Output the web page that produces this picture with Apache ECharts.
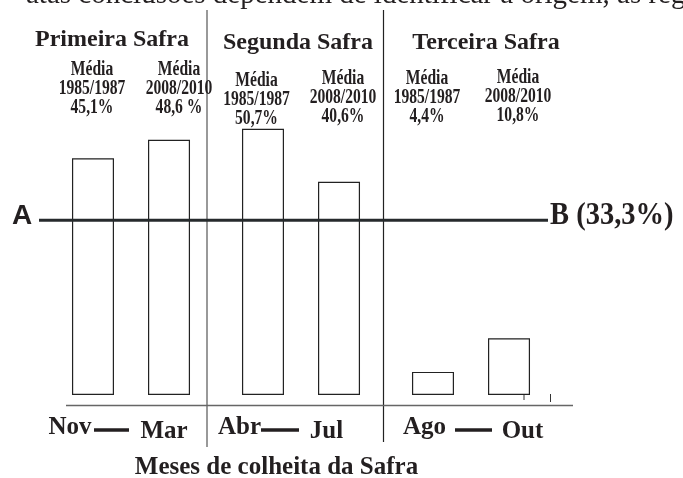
<!DOCTYPE html>
<html>
<head>
<meta charset="utf-8">
<script src="https://cdn.jsdelivr.net/npm/echarts@6/dist/echarts.min.js"></script>
<style>
html,body{margin:0;padding:0;background:#fff;}
#c{width:683px;height:478px;}
</style>
</head>
<body>
<div id="c"></div>
<script>
// ---- data ----
var safras = ['Primeira Safra', 'Segunda Safra', 'Terceira Safra'];
var periodoA = '1985/1987';
var periodoB = '2008/2010';
var media1985 = [45.1, 50.7, 4.4];
var media2008 = [48.6, 40.6, 10.8];
var labels1985 = ['45,1%', '50,7%', '4,4%'];
var labels2008 = ['48,6 %', '40,6%', '10,8%'];
var refValue = 33.3;
var refLabel = '33,3%';
var mesesInicio = ['Nov', 'Abr', 'Ago'];
var mesesFim = ['Mar', 'Jul', 'Out'];
var xTitle = 'Meses de colheita da Safra';
var topText = 'atas conclusões dependem de identificar a origem, as regiões produtoras';

// ---- layout (pixels) ----
var INK = '#231f20';
var SERIF = '"Liberation Serif", "Times New Roman", serif';
var headerX = [112, 298, 486], headerY = [40, 43, 43];
var blockX = [[92, 179], [256.5, 343], [427, 518]];
var blockY = [[89, 89], [100, 97.5], [98, 96.5]];
var startX = [70, 239.5, 424.5], endX = [164, 326.5, 522.5];
var dashX = [[94, 129], [261, 299], [455, 492]];

var chart = echarts.init(document.getElementById('c'), null, {renderer: 'canvas'});

var graphics = [];
// clipped running text at top
graphics.push({type: 'text', x: 26, y: 10, style: {text: topText, font: '29px ' + SERIF, fill: INK, textAlign: 'left', textVerticalAlign: 'bottom'}});
// dividers
graphics.push({type: 'line', shape: {x1: 207, y1: 10, x2: 207, y2: 447}, style: {stroke: '#555', lineWidth: 1.2}});
graphics.push({type: 'line', shape: {x1: 383.5, y1: 10, x2: 383.5, y2: 442}, style: {stroke: '#222', lineWidth: 1.2}});
// baseline axis
graphics.push({type: 'line', shape: {x1: 66, y1: 405.5, x2: 573, y2: 405.5}, style: {stroke: '#666', lineWidth: 1.3}});
// stray ticks
graphics.push({type: 'line', shape: {x1: 524, y1: 392, x2: 524, y2: 400}, style: {stroke: '#333', lineWidth: 1}});
graphics.push({type: 'line', shape: {x1: 550.5, y1: 394, x2: 550.5, y2: 402}, style: {stroke: '#333', lineWidth: 1}});

for (var i = 0; i < safras.length; i++) {
  graphics.push({type: 'text', x: headerX[i], y: headerY[i], style: {text: safras[i], font: 'bold 24px ' + SERIF, fill: INK, textAlign: 'center', textVerticalAlign: 'middle'}});
  var blocks = [['Média', periodoA, labels1985[i]], ['Média', periodoB, labels2008[i]]];
  for (var j = 0; j < 2; j++) {
    graphics.push({type: 'text', x: blockX[i][j], y: blockY[i][j], scaleX: 0.78,
      style: {text: blocks[j].join('\n'), font: 'bold 20px ' + SERIF, lineHeight: 19, fill: INK, textAlign: 'center', textVerticalAlign: 'middle'}});
  }
  graphics.push({type: 'text', x: startX[i], y: 428, style: {text: mesesInicio[i], font: 'bold 25px ' + SERIF, fill: INK, textAlign: 'center', textVerticalAlign: 'middle'}});
  graphics.push({type: 'text', x: endX[i], y: 432, style: {text: mesesFim[i], font: 'bold 25px ' + SERIF, fill: INK, textAlign: 'center', textVerticalAlign: 'middle'}});
  graphics.push({type: 'line', shape: {x1: dashX[i][0], y1: 430, x2: dashX[i][1], y2: 430}, style: {stroke: INK, lineWidth: 3.5}});
}
graphics.push({type: 'text', x: 276.5, y: 468, style: {text: xTitle, font: 'bold 25px ' + SERIF, fill: INK, textAlign: 'center', textVerticalAlign: 'middle'}});
// A / B labels of the reference line
graphics.push({type: 'text', x: 22, y: 216, style: {text: 'A', font: 'bold 28px "Liberation Sans", Arial, sans-serif', fill: INK, textAlign: 'center', textVerticalAlign: 'middle'}});
graphics.push({type: 'text', x: 550, y: 216, scaleX: 0.92, style: {text: 'B (' + refLabel + ')', font: 'bold 31px ' + SERIF, fill: INK, textAlign: 'left', textVerticalAlign: 'middle'}});

var barStyle = {color: '#fff', borderColor: '#222', borderWidth: 1.2};

chart.setOption({
  animation: false,
  backgroundColor: '#fff',
  grid: [
    {left: 46, right: 127, top: 80, bottom: 83},
    {left: 39, right: 135, top: 80, bottom: 83}
  ],
  xAxis: [
    {type: 'category', gridIndex: 0, data: safras, show: false},
    {type: 'value', gridIndex: 1, min: 0, max: 1, show: false}
  ],
  yAxis: [
    {type: 'value', gridIndex: 0, min: 0, max: 60, show: false},
    {type: 'value', gridIndex: 1, min: 0, max: 60, show: false}
  ],
  series: [
    {name: periodoA, type: 'bar', xAxisIndex: 0, yAxisIndex: 0, data: media1985, barWidth: 42, barGap: '81%', itemStyle: barStyle},
    {name: periodoB, type: 'bar', xAxisIndex: 0, yAxisIndex: 0, data: media2008, barWidth: 42, barGap: '81%', itemStyle: barStyle},
    {name: 'AB', type: 'line', xAxisIndex: 1, yAxisIndex: 1, data: [[0, refValue], [1, refValue]], symbol: 'none', z: 5,
      lineStyle: {color: '#262a2c', width: 3}}
  ],
  graphic: graphics
});
</script>
</body>
</html>
